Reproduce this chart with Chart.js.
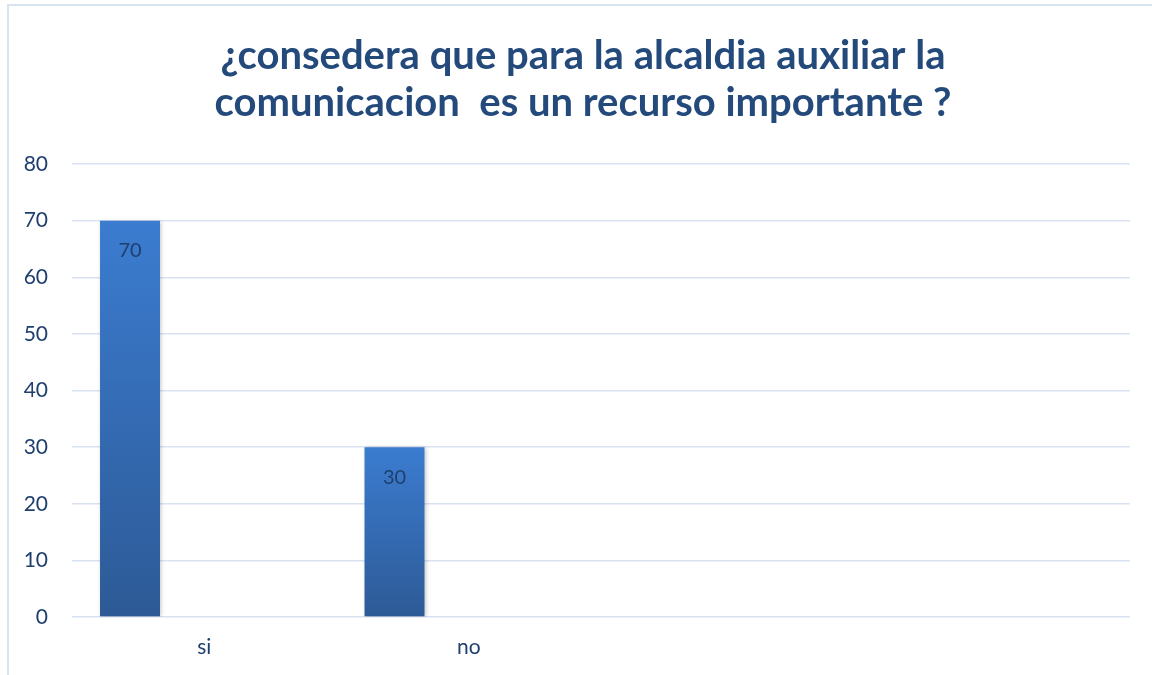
<!DOCTYPE html>
<html>
<head>
<meta charset="utf-8">
<script src="https://cdn.jsdelivr.net/npm/chart.js@4/dist/chart.umd.min.js"></script>
<style>
  body { margin: 0; background: #fff; }
  #marco { position: absolute; left: 7px; top: 4px; width: 1170px; height: 700px; border: 2px solid #dae3f0; }
  #caja { position: absolute; left: 0; top: 0; width: 1152px; height: 675px; }
</style>
</head>
<body>
<div id="marco"></div>
<div id="caja"><canvas id="grafica"></canvas></div>
<script>
const categorias = ['si', 'no', '', '']
const serie1 = [70, 30, null, null]
const serie2 = [null, null, null, null]
const serie3 = [null, null, null, null]
const ticksY = [0, 10, 20, 30, 40, 50, 60, 70, 80]
const titulo = ['¿consedera que para la alcaldia auxiliar la', 'comunicacion  es un recurso importante ?']

const azulTexto = '#1f3f6e'

// degradado por barra, de claro arriba a oscuro abajo
function degradado(c) {
    const chart = c.chart
    if (!chart.chartArea || c.raw == null) return '#3477c8'
    const y = chart.scales.y
    const arriba = y.getPixelForValue(c.raw)
    const abajo = y.getPixelForValue(0)
    const g = chart.ctx.createLinearGradient(0, arriba, 0, abajo)
    g.addColorStop(0, '#3b7cd0')
    g.addColorStop(1, '#2d5a96')
    return g
}

// sombra suave, etiquetas dentro de la barra y titulo
const etiquetas = {
    id: 'etiquetas',
    beforeDatasetsDraw(chart) {
        const ctx = chart.ctx
        ctx.save()
        ctx.shadowColor = 'rgba(0,0,0,0.22)'
        ctx.shadowBlur = 4
        ctx.shadowOffsetX = 1
        ctx.shadowOffsetY = 1
    },
    afterDatasetsDraw(chart) {
        const ctx = chart.ctx
        ctx.restore()
        const meta = chart.getDatasetMeta(0)
        ctx.save()
        ctx.font = '20px Lato'
        ctx.fillStyle = azulTexto
        ctx.textAlign = 'center'
        ctx.textBaseline = 'middle'
        meta.data.forEach((bar, i) => {
            const v = serie1[i]
            if (v == null) return
            ctx.fillText(String(v), bar.x, bar.y + 30)
        })
        ctx.restore()
    },
    afterDraw(chart) {
        const ctx = chart.ctx
        ctx.save()
        ctx.font = 'bold 40px Lato'
        ctx.fillStyle = '#244a7c'
        ctx.textAlign = 'center'
        ctx.textBaseline = 'alphabetic'
        ctx.fillText(titulo[0], 583, 69)
        ctx.fillText(titulo[1], 583, 116)
        ctx.restore()
    }
}

new Chart(document.getElementById('grafica'), {
    type: 'bar',
    data: {
        labels: categorias,
        datasets: [
            { label: 'Serie1', data: serie1, backgroundColor: degradado },
            { label: 'Serie2', data: serie2, backgroundColor: '#ed7d31' },
            { label: 'Serie3', data: serie3, backgroundColor: '#a5a5a5' }
        ]
    },
    options: {
        responsive: true,
        maintainAspectRatio: false,
        animation: false,
        categoryPercentage: 0.842,
        barPercentage: 0.808,
        layout: { padding: { left: 0, right: 22, top: 164, bottom: 0 } },
        plugins: {
            legend: { display: false },
            tooltip: { enabled: false },
            title: { display: false }
        },
        scales: {
            x: {
                grid: { display: false, drawTicks: false },
                border: { display: false },
                ticks: { color: azulTexto, font: { family: 'Lato', size: 21 }, padding: 18 },
                afterFit: s => { s.height = 58 }
            },
            y: {
                min: 0,
                max: 80,
                afterBuildTicks: s => { s.ticks = ticksY.map(v => ({ value: v })) },
                grid: { color: '#d9e2f1', lineWidth: 1.5, drawTicks: false },
                border: { display: false },
                ticks: { color: azulTexto, font: { family: 'Lato', size: 21 }, padding: 24 },
                afterFit: s => { s.width = 72 }
            }
        }
    },
    plugins: [etiquetas]
})
</script>
</body>
</html>
